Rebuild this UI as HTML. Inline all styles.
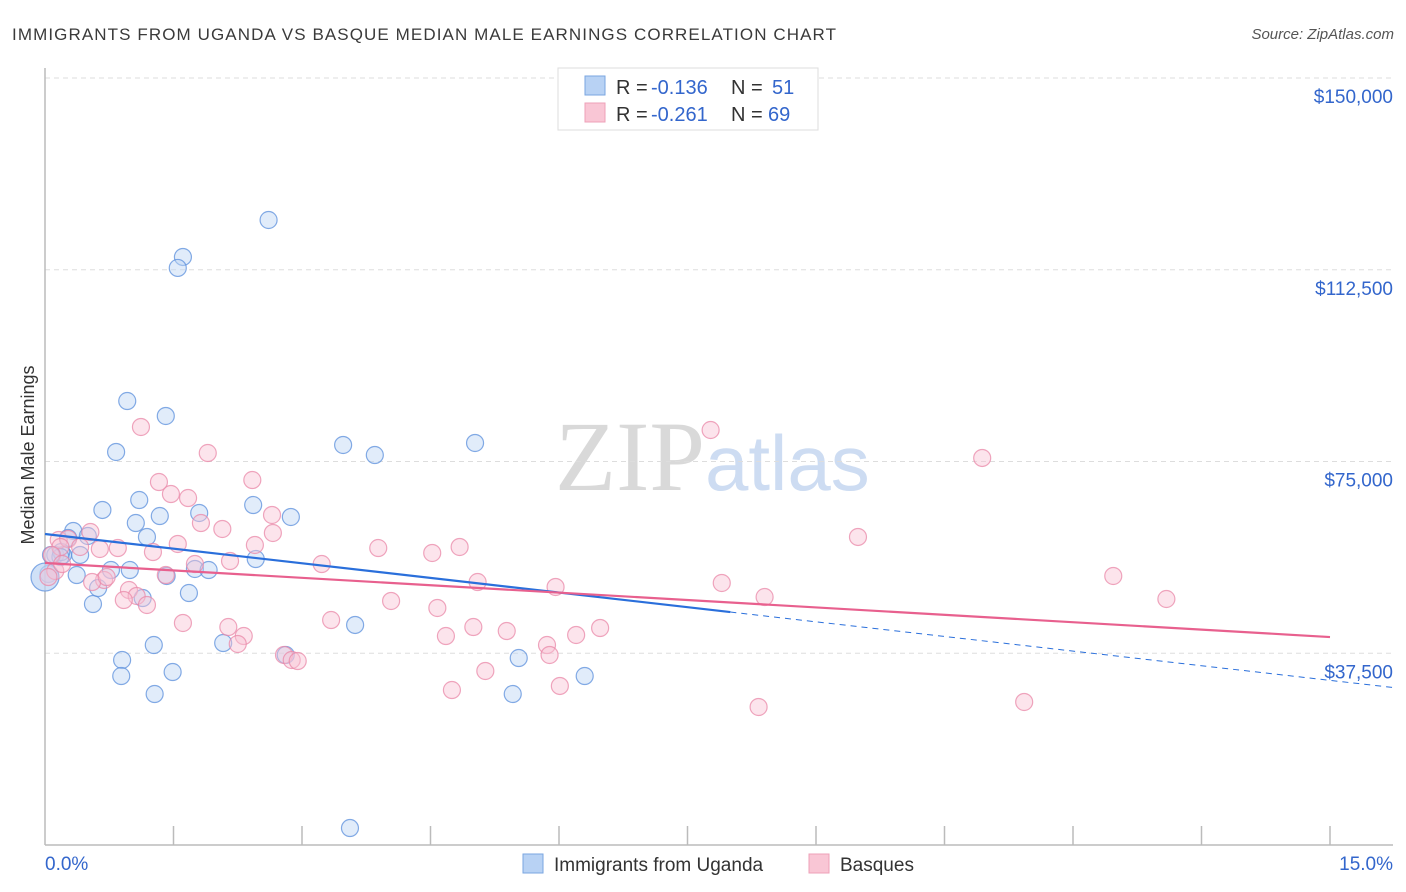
<!DOCTYPE html>
<html><head><meta charset="utf-8"><style>
body{margin:0;background:#fff;font-family:"Liberation Sans",sans-serif}
svg{display:block}
</style></head><body>
<svg id="chart" width="1406" height="892" xmlns="http://www.w3.org/2000/svg" font-family="Liberation Sans, sans-serif">
<text x="12" y="40" font-size="17" fill="#3a3a3a" textLength="824">IMMIGRANTS FROM UGANDA VS BASQUE MEDIAN MALE EARNINGS CORRELATION CHART</text>
<text x="1394" y="39" font-size="15" fill="#555" font-style="italic" text-anchor="end">Source: ZipAtlas.com</text>
<text x="555" y="490" font-size="100"><tspan fill="#d9d9d9" font-family="Liberation Serif, serif">ZIP</tspan><tspan fill="#cddcf2" font-size="78">atlas</tspan></text>
<g id="grid"></g>
<g id="axes"></g>
<g id="pts"></g>
<g id="trends"></g>
<text transform="translate(34,455) rotate(-90)" font-size="18" fill="#333" text-anchor="middle">Median Male Earnings</text>
<g font-size="20">
<rect x="558" y="68" width="260" height="62" fill="#fff" stroke="#ddd"/>
<rect x="585" y="76" width="20" height="19" fill="#b8d2f4" stroke="#7aa6e0"/>
<rect x="585" y="103" width="20" height="19" fill="#f9c6d5" stroke="#eea0b8"/>
<text x="616" y="94" fill="#333">R =</text><text x="651" y="94" fill="#3366cc">-0.136</text>
<text x="731" y="94" fill="#333">N =</text><text x="772" y="94" fill="#3366cc">51</text>
<text x="616" y="121" fill="#333">R =</text><text x="651" y="121" fill="#3366cc">-0.261</text>
<text x="731" y="121" fill="#333">N =</text><text x="768" y="121" fill="#3366cc">69</text>
</g>
<g>
<rect x="523" y="854" width="20" height="19" fill="#b8d2f4" stroke="#7aa6e0"/>
<text x="554" y="871" font-size="19" fill="#333">Immigrants from Uganda</text>
<rect x="809" y="854" width="20" height="19" fill="#f9c6d5" stroke="#eea0b8"/>
<text x="840" y="871" font-size="19" fill="#333">Basques</text>
</g>
</svg>
<script>
const yTicks=[37500,75000,112500,150000];
const yTickLabels=["$37,500","$75,000","$112,500","$150,000"];
const xEdgeLabels=["0.0%","15.0%"];
const blueX=[2.61,1.61,1.55,0.96,1.41,0.83,3.48,3.85,5.02,1.10,0.67,2.43,2.87,1.34,1.80,1.06,0.33,0.50,1.19,0.27,0.12,0.21,0.41,0.19,0.77,0.99,0.37,1.42,1.75,1.91,1.14,1.68,0.56,0.62,2.46,3.62,1.27,2.08,0.90,2.81,5.53,0.89,1.49,1.28,5.46,6.30,3.56,0.04,0.18,0.07,0.0];
const blueY=[122230,115000,112850,86830,83900,76860,78230,76270,78620,67470,65520,66490,64150,64340,64930,62970,61410,60430,60240,60040,56720,56720,56720,57300,53780,53780,52800,52610,53980,53780,48300,49280,47130,50260,55930,43030,39110,39500,36180,37160,36570,33050,33830,29530,29530,33050,3320,53000,56320,56720,52400];
const pinkX=[1.12,7.77,10.94,1.90,1.33,2.42,1.47,1.67,2.65,1.82,2.07,2.66,0.53,0.16,0.27,0.85,0.64,1.26,1.55,2.45,3.89,4.84,4.52,3.23,2.16,1.75,1.41,0.69,0.98,0.55,5.05,5.96,7.90,9.49,12.47,13.09,8.40,4.04,1.07,0.92,1.19,4.58,3.34,1.61,5.00,5.39,2.14,2.32,2.25,4.68,6.20,6.48,5.86,5.89,2.79,2.88,2.95,5.14,4.75,6.01,8.33,11.43,0.18,0.08,0.12,0.41,0.72,0.04,0.20];
const pinkY=[81750,81160,75690,76660,70990,71380,68640,67860,64540,62970,61800,61020,61210,59650,59840,58080,57890,57300,58870,58670,58080,58280,57110,54950,55540,54950,52800,51830,49870,51430,51430,50460,51240,60240,52610,48110,48500,47720,48700,47910,46940,46350,44000,43420,42630,41850,42630,40870,39310,40870,41070,42440,39110,37160,37160,36180,35980,34030,30310,31100,26990,27970,58280,56720,53590,58280,52410,52410,54950];
const blueTrend=[60820,32200];
const pinkTrend=[55150,40670];
const blueSolidEnd=8.0, blueDashEnd=15.73;

const X0=45,X1=1330,Y0=845,YTOP=78,YMAX=150000;
const sx=v=>X0+v/15*(X1-X0);
const sy=v=>Y0-v/YMAX*(Y0-YTOP);
const NS="http://www.w3.org/2000/svg";
function mk(tag,parent,attrs){const e=document.createElementNS(NS,tag);for(const k in attrs)e.setAttribute(k,attrs[k]);parent.appendChild(e);return e;}
const grid=document.getElementById('grid'),axes=document.getElementById('axes'),pts=document.getElementById('pts'),tr=document.getElementById('trends');
yTicks.forEach((t,i)=>{
  const l=mk('line',grid,{x1:X0,x2:1393,y1:sy(t),y2:sy(t),stroke:'#ddd','stroke-dasharray':'5,4'});
  
  
  const tx=mk('text',grid,{x:1393,y:sy(t)+25,'font-size':19,fill:'#3366cc','text-anchor':'end'});
  tx.textContent=yTickLabels[i];
  
  
});
mk('line',axes,{x1:X0,x2:X0,y1:68,y2:Y0,stroke:'#bbb','stroke-width':1.5});
mk('line',axes,{x1:X0,x2:1393,y1:Y0,y2:Y0,stroke:'#bbb','stroke-width':1.5});
for(let i=1;i<=10;i++){
  const tk=mk('line',axes,{x1:sx(i*1.5),x2:sx(i*1.5),y1:826,y2:Y0,stroke:'#bbb','stroke-width':1.5});
  
  
}
const xl0=mk('text',axes,{x:45,y:870,'font-size':19,fill:'#3366cc'});xl0.textContent=xEdgeLabels[0];


const xl1=mk('text',axes,{x:1393,y:870,'font-size':19,fill:'#3366cc','text-anchor':'end'});xl1.textContent=xEdgeLabels[1];


function drawPts(xs,ys,fill,stroke,name){
  xs.forEach((x,i)=>{
    const big=(x===0);
    const c=mk('circle',pts,{cx:sx(x),cy:sy(ys[i]),r:big?14:8.5,fill:fill,'fill-opacity':big?0.7:0.45,stroke:stroke,'stroke-width':1.2,'stroke-opacity':0.75});
    
    
  });
}
drawPts(blueX,blueY,'#bcd4f4','#5b8fdc','uganda-point');
drawPts(pinkX,pinkY,'#f8c4d4','#ea88a8','basque-point');
const bAt=x=>blueTrend[0]+(blueTrend[1]-blueTrend[0])*x/15;
const pAt=x=>pinkTrend[0]+(pinkTrend[1]-pinkTrend[0])*x/15;
const b1=mk('line',tr,{x1:sx(0),y1:sy(bAt(0)),x2:sx(blueSolidEnd),y2:sy(bAt(blueSolidEnd)),stroke:'#2a6fdb','stroke-width':2.2});


const b2=mk('line',tr,{x1:sx(blueSolidEnd),y1:sy(bAt(blueSolidEnd)),x2:sx(blueDashEnd),y2:sy(bAt(blueDashEnd)),stroke:'#2a6fdb','stroke-width':1,'stroke-dasharray':'6,5'});


const p1=mk('line',tr,{x1:sx(0),y1:sy(pAt(0)),x2:sx(15),y2:sy(pAt(15)),stroke:'#e8608e','stroke-width':2.2});


</script>
</body></html>
